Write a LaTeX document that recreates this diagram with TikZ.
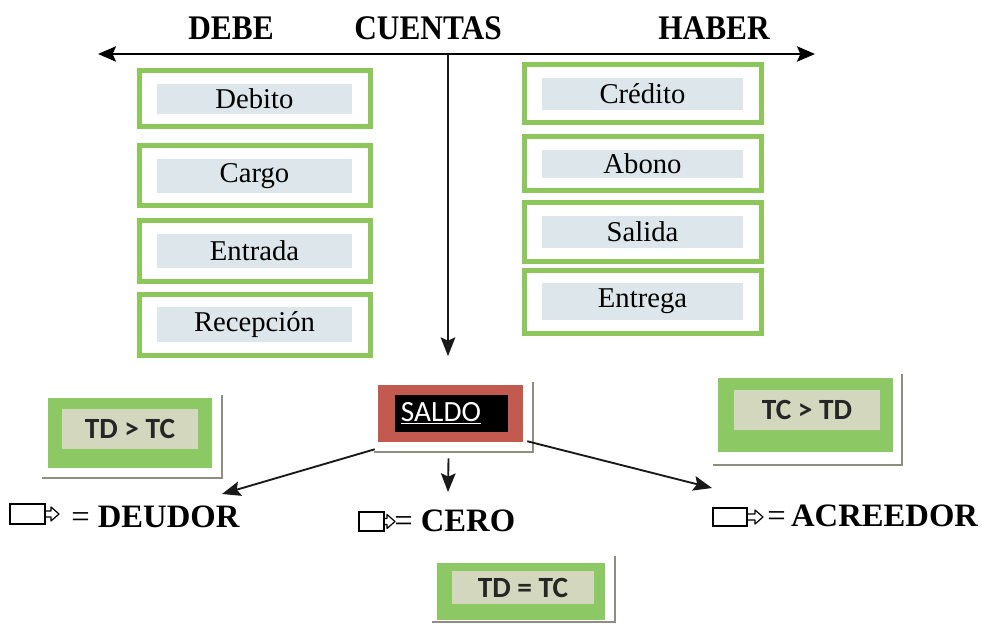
\documentclass[tikz,border=0pt]{standalone}
\usepackage{fontspec}
\setmainfont{Liberation Serif}
\newfontfamily\calib{Carlito}
\usetikzlibrary{arrows.meta,calc}
\definecolor{boxgreen}{HTML}{8DC65A}
\definecolor{band}{HTML}{DDE6EA}
\definecolor{fillgreen}{HTML}{8CC964}
\definecolor{innerbeige}{HTML}{D3D7BD}
\definecolor{saldored}{HTML}{C25A50}
\definecolor{shadowgray}{HTML}{8E8E82}
\newcommand\pxl{0.75pt}
\begin{document}
\begin{tikzpicture}[x=0.75pt,y=-0.75pt,
  hdr/.style={font=\fontsize{23.5}{28}\selectfont\bfseries, anchor=base, inner sep=0pt, yscale=1.1, transform shape},
  acct/.style n args={2}{draw=boxgreen, line width=3.75pt, fill=white,
    minimum width=#1*\pxl, minimum height=#2*\pxl, inner sep=0pt,
    font=\fontsize{21.5}{24}\selectfont,
    path picture={\fill[band] ($(path picture bounding box.north west)+(18,13)$) rectangle ($(path picture bounding box.south east)+(-18,-13)$);}},
  condouter/.style n args={2}{fill=fillgreen, draw=none, minimum width=#1*\pxl, minimum height=#2*\pxl, inner sep=0pt},
  condinner/.style n args={2}{fill=innerbeige, draw=none, minimum width=#1*\pxl, minimum height=#2*\pxl, inner sep=0pt,
    font=\calib\bfseries\fontsize{22}{26}\selectfont, text=black!85},
  shadowline/.style={draw=shadowgray, line width=1.6pt},
  arr/.style={draw=black!90, line width=1.4pt, -{Stealth[length=14pt,width=11pt,inset=2.5pt]}},
  lbl/.style={font=\fontsize{24.5}{30}\selectfont\bfseries, anchor=base west, inner sep=0pt},
  pics/tagicon/.style n args={3}{code={
    \draw[line width=0.9pt] (0,0) rectangle (#1,#3);
    \draw[line width=0.9pt, line join=round] (#1,#3/2-3) -- ++(#2,0) -- ++(0,-4) -- ++(8,7) -- ++(-8,7) -- ++(0,-4) -- ++(-#2,0);
  }}
]
\useasboundingbox (0,0) rectangle (982,624);

% headers
\node[hdr] (debe) at (231,40) {DEBE};
\node[hdr] (cuentas) at (428,40) {CUENTAS};
\node[hdr] (haber) at (714,40) {HABER};

% main axis
\coordinate (axl) at (98,54);
\coordinate (axr) at (815,54);
\coordinate (axm) at (448,54);
\coordinate (axd) at (448,356);
\draw[line width=1.4pt, {Stealth[length=13.5pt,width=11.5pt,inset=2.5pt]}-{Stealth[length=13.5pt,width=11.5pt,inset=2.5pt]}] (axl) -- (axr);
\draw[arr] (axm) -- (axd);

% DEBE column
\node[acct={231}{56}] (debito) at (254.5,99) {Debito};
\node[acct={231}{60}] (cargo) at (254.5,176) {Cargo};
\node[acct={231}{60}] (entrada) at (254.5,251) {Entrada};
\node[acct={231}{61}] (recepcion) at (254.5,324.5) {Recepción};

% HABER column
\node[acct={237}{58}] (credito) at (642.5,94) {Crédito};
\node[acct={237}{54}] (abono) at (642.5,164) {Abono};
\node[acct={237}{58}] (salida) at (642.5,232) {Salida};
\node[acct={237}{63}] (entrega) at (642.5,301.5) {Entrega};

% SALDO
\draw[shadowline] (533,382) |- (374,452);
\node[fill=saldored, minimum width=145*\pxl, minimum height=57*\pxl, inner sep=0pt] (saldobox) at (450.5,413.5) {};
\node[fill=black, minimum width=113*\pxl, minimum height=37*\pxl, inner sep=0pt] (saldoin) at (451.5,413.5) {};
\node[text=white, font=\calib\fontsize{22}{26}\selectfont, inner sep=0pt] (saldo) at (441,413) {\underline{SALDO}};

% TD > TC
\draw[shadowline] (222,395) |- (42,478);
\node[condouter={164}{70}] (tdtcbox) at (130,433) {};
\node[condinner={136}{40}] (tdtc) at (130,429) {TD > TC};

% TC > TD
\draw[shadowline] (902,374) |- (713,465);
\node[condouter={175}{74}] (tctdbox) at (805.5,415) {};
\node[condinner={146}{40}] (tctd) at (807,409.5) {TC > TD};

% TD = TC
\draw[shadowline] (615,556) |- (432,622);
\node[condouter={168}{57}] (tdeqbox) at (521,591.5) {};
\node[condinner={142}{33}] (tdeq) at (523,587.5) {TD = TC};

% result labels
\pic at (10,504) {tagicon={35}{6}{20}};
\node[lbl] (deudor) at (71,527) {{\mdseries =} DEUDOR};
\pic at (359,512) {tagicon={25}{3}{19}};
\node[lbl] (cero) at (394,531) {{\mdseries =} CERO};
\pic at (713,508) {tagicon={34}{8}{18}};
\node[lbl] (acreedor) at (767,526) {{\mdseries =}\,ACREEDOR};

% arrows from SALDO
\coordinate (dtip) at (222,494);
\coordinate (ctip) at (448,492);
\coordinate (atip) at (712,488);
\draw[arr] ($(saldobox.south west)+(-3,7)$) -- (dtip);
\draw[arr] ($(saldobox.south)+(-2,16)$) -- (ctip);
\draw[arr] ($(saldobox.south east)+(4,-1)$) -- (atip);
\end{tikzpicture}
\end{document}
